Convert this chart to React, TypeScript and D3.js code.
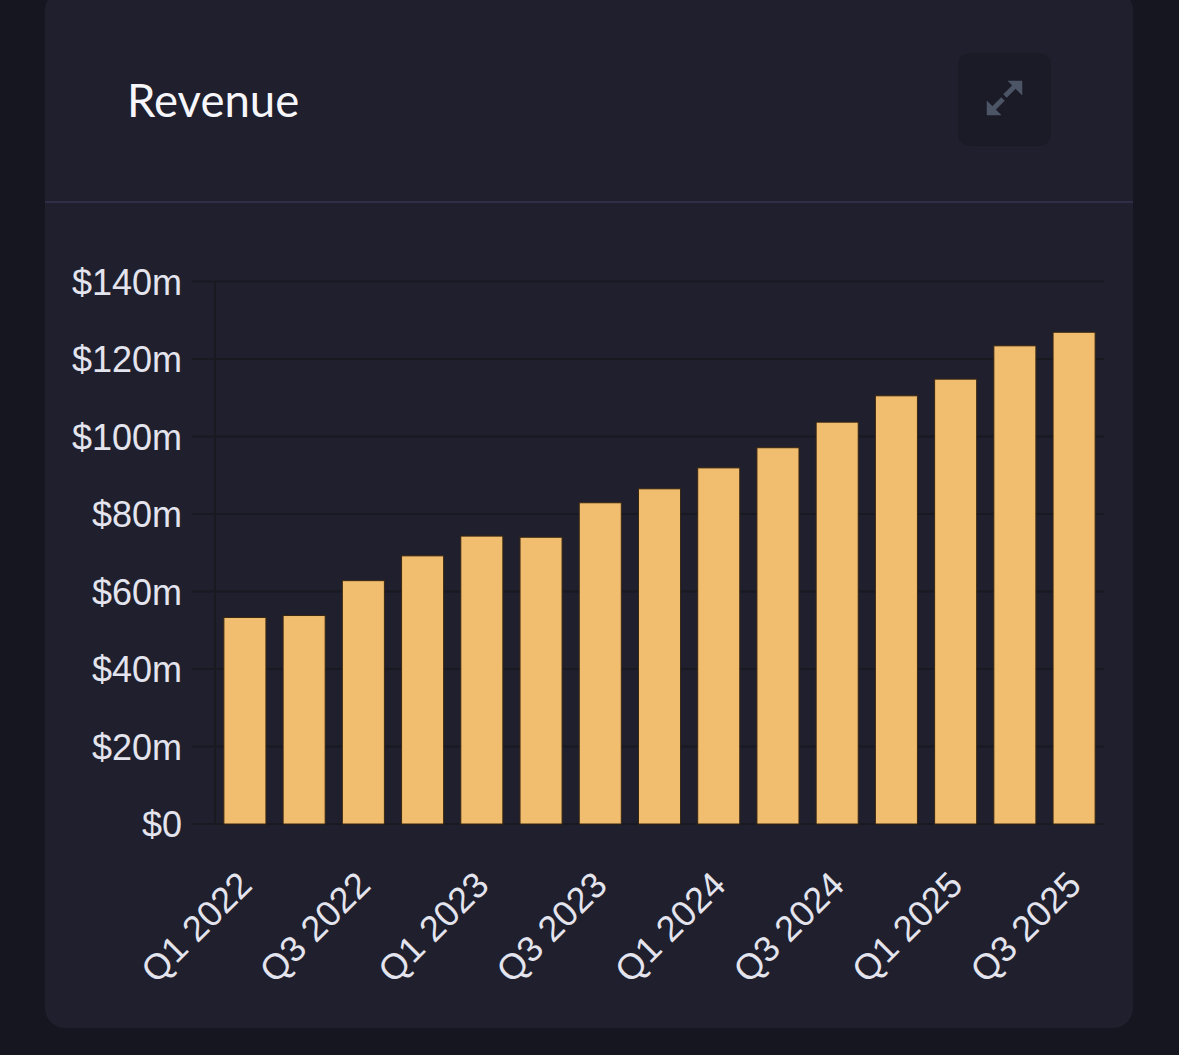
import React from "react";
import * as d3 from "d3";

const categories = [
  "Q1 2022", "Q2 2022", "Q3 2022", "Q4 2022",
  "Q1 2023", "Q2 2023", "Q3 2023", "Q4 2023",
  "Q1 2024", "Q2 2024", "Q3 2024", "Q4 2024",
  "Q1 2025", "Q2 2025", "Q3 2025",
];
const revenue = [53.3, 53.8, 62.8, 69.2, 74.3, 74.0, 82.9, 86.5, 91.9, 97.1, 103.7, 110.5, 114.8, 123.4, 126.9];
const yTicks = [0, 20, 40, 60, 80, 100, 120, 140];
const xTickLabels = ["Q1 2022", "Q3 2022", "Q1 2023", "Q3 2023", "Q1 2024", "Q3 2024", "Q1 2025", "Q3 2025"];
const title = "Revenue";

const W = 1179;
const H = 1055;

export default function App() {
  const x = d3.scaleBand<string>().domain(categories).range([215, 1104]).paddingInner(0.29).paddingOuter(0.15);
  const y = d3.scaleLinear().domain([0, 140]).range([824, 281.5]);
  const fmt = (v: number) => (v === 0 ? "$0" : `$${v}m`);
  const axisFont = "'Liberation Sans', Arial, Helvetica, sans-serif";

  return (
    <svg width={W} height={H} style={{ position: "absolute", left: 0, top: 0 }}>
      <rect x={0} y={0} width={W} height={H} fill="#161620" />
      <rect x={45} y={-10} width={1088} height={1038} rx={20} fill="#1f1f2d" />
      <text x={127} y={117} fill="#f7f7fb" fontFamily="Lato, 'Open Sans', sans-serif" fontSize={45.5}>
        {title}
      </text>
      <rect x={957} y={52} width={95} height={95} rx={13} fill="#1b1b27" stroke="#222230" strokeWidth={1} />
      <g fill="#4c5566" stroke="#4c5566">
        <line x1={1005} y1={96} x2={1015} y2={86} strokeWidth={5} />
        <polygon points="1022,81 1008,81 1022,95" strokeWidth={0.5} />
        <line x1={1003} y1={99} x2={993} y2={109} strokeWidth={5} />
        <polygon points="987,115 987,101 1001,115" strokeWidth={0.5} />
      </g>
      <rect x={45} y={201} width={1088} height={2} fill="#2e2e48" />

      <g>
        {yTicks.map((t) => (
          <line key={"g" + t} x1={192} x2={1104} y1={y(t)} y2={y(t)} stroke="#191922" strokeWidth={2} />
        ))}
        <line x1={215} x2={215} y1={281} y2={825} stroke="#191922" strokeWidth={2} />
      </g>

      <g>
        {categories.map((c, i) => (
          <rect
            key={c}
            x={x(c)!}
            y={y(revenue[i])}
            width={x.bandwidth()}
            height={y(0) - y(revenue[i])}
            fill="#f0be6e"
            stroke="#3a2612"
            strokeWidth={1}
          />
        ))}
      </g>

      <g fill="#e4e4ee" fontFamily={axisFont} fontSize={36}>
        {yTicks.map((t) => (
          <text key={"y" + t} x={182} y={y(t) + 13} textAnchor="end">
            {fmt(t)}
          </text>
        ))}
        {xTickLabels.map((c) => {
          const cx = x(c)! + x.bandwidth() / 2;
          return (
            <text key={"x" + c} transform={`translate(${cx + 9},${887}) rotate(-45)`} textAnchor="end">
              {c}
            </text>
          );
        })}
      </g>
    </svg>
  );
}
